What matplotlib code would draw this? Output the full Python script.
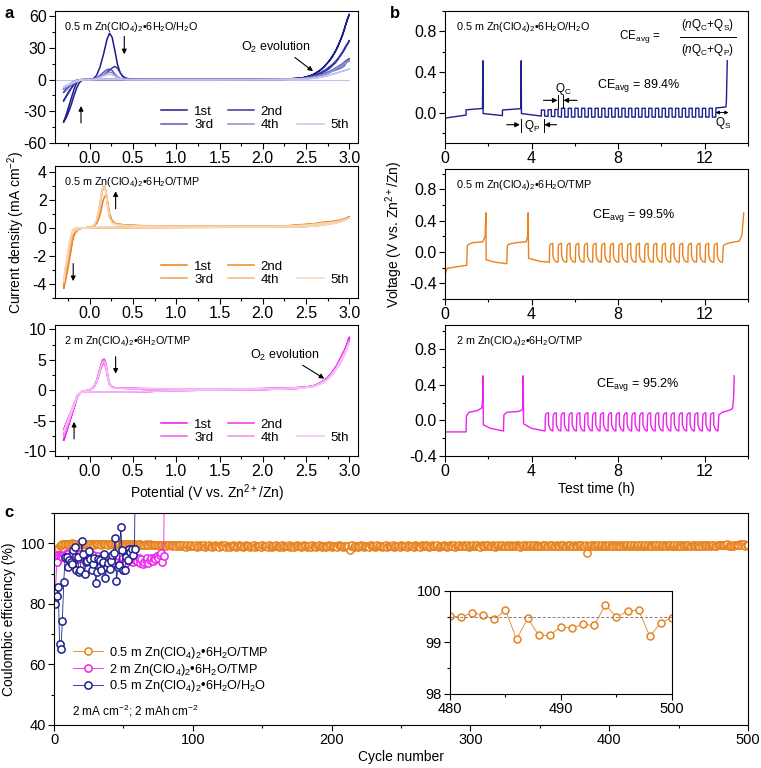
import numpy as np
import matplotlib.pyplot as plt
from matplotlib.ticker import MultipleLocator
from matplotlib.lines import Line2D

plt.rcParams['font.family'] = ['Liberation Sans', 'DejaVu Sans']
plt.rcParams['mathtext.fontset'] = 'custom'
plt.rcParams['mathtext.rm'] = 'Liberation Sans'
plt.rcParams['mathtext.it'] = 'Liberation Sans:italic'
plt.rcParams['mathtext.default'] = 'regular'
plt.rcParams['axes.unicode_minus'] = False
plt.rcParams['axes.linewidth'] = 0.8

# ---------------- data: panel a (CV) ----------------
cycle_names = ['1st', '2nd', '3rd', '4th', '5th']

# potential path for the H2O electrolyte (forward -0.3 -> 3.0, back to -0.3)
cv_h2o_v = [-0.30, -0.27, -0.24, -0.21, -0.18, -0.15, -0.12, -0.09, -0.05, 0.00, 0.04, 0.08,
            0.12, 0.16, 0.20, 0.23, 0.26, 0.29, 0.32, 0.35, 0.38, 0.42, 0.5, 0.8, 1.5, 2.0,
            2.3, 2.45, 2.55, 2.65, 2.72, 2.8, 2.86, 2.92, 2.96, 3.0,
            2.98, 2.94, 2.9, 2.84, 2.76, 2.68, 2.58, 2.45, 2.2, 1.5, 0.8, 0.3, 0.0, -0.08,
            -0.12, -0.15, -0.18, -0.21, -0.24, -0.27, -0.30]
cv_h2o_1 = [-40, -36, -30, -23, -15, -8, -3, -0.8, 0, 0, 0.5, 4, 12, 24, 38, 44, 40, 28, 15, 7, 3,
            1.2, 0.4, 0.1, 0.1, 0.2, 0.6, 1.5, 3.5, 8, 13, 21, 30, 42, 53, 62,
            58, 47, 38, 27, 17, 10, 4.5, 1.5, 0.3, 0.05, 0, 0, 0, 0, -0.5, -3, -9, -17, -25, -33, -40]
cv_h2o_2 = [-20, -16, -12, -8, -4.5, -2, -0.6, -0.1, 0, 0, 0.2, 1, 2.5, 4.5, 7, 9, 11, 12.5, 11,
            7, 3.5, 1.2, 0.3, 0.1, 0.1, 0.2, 0.5, 1.2, 2.8, 6, 9, 14, 19, 26, 32, 37,
            34, 28, 23, 16, 10, 6, 3, 1.2, 0.2, 0, 0, 0, 0, 0, -0.3, -1.5, -4, -7.5, -11, -15.5, -20]
cv_h2o_3 = [-12, -9, -6.5, -4, -2, -0.8, -0.2, 0, 0, 0, 0.2, 1.5, 4, 7, 9.5, 10, 8.5, 5.5, 2.8,
            1.2, 0.5, 0.2, 0.1, 0.05, 0.05, 0.1, 0.3, 0.8, 2, 4, 6, 9, 12, 15, 18, 20,
            18, 13, 11, 9, 7, 4.5, 2.5, 1, 0.2, 0, 0, 0, 0, 0, -0.2, -1, -2.5, -4.5, -7, -9.5, -12]
cv_h2o_4 = [-9, -7, -5, -3, -1.5, -0.5, -0.1, 0, 0, 0, 0.1, 1, 2.5, 4.5, 6.2, 7, 6.5, 4.5, 2.5,
            1, 0.4, 0.2, 0.1, 0.05, 0.05, 0.1, 0.3, 0.7, 1.5, 3.5, 5.5, 8, 11, 13, 16, 18,
            17, 15, 13, 10, 6, 3.5, 2, 0.8, 0.2, 0, 0, 0, 0, 0, -0.1, -0.7, -2, -3.5, -5, -7, -9]
cv_h2o_5 = [-7, -6, -5, -4, -3, -2, -1.2, -0.5, 0, 0, 0.1, 0.8, 2, 3.5, 4.5, 5, 4.5, 3, 1.5,
            0.6, 0.3, 0.1, 0.05, 0, 0, 0.05, 0.2, 0.5, 1, 2, 3.2, 5, 6.5, 8, 9, 10,
            9.5, 8.5, 7.5, 6, 4, 2.5, 1.2, 0.5, 0.1, 0, 0, 0, 0, 0, -0.3, -1, -2, -3, -4.2, -5.5, -7]

# potential path for the TMP electrolytes
cv_tmp_v = [-0.30, -0.28, -0.26, -0.24, -0.22, -0.20, -0.17, -0.14, -0.10, -0.05, 0.00, 0.05,
            0.08, 0.11, 0.13, 0.15, 0.17, 0.19, 0.21, 0.23, 0.26, 0.30, 0.40, 0.60, 1.0, 1.5,
            2.0, 2.3, 2.5, 2.6, 2.7, 2.8, 2.9, 2.95, 3.0,
            2.95, 2.85, 2.75, 2.6, 2.4, 2.0, 1.0, 0.5, 0.0, -0.1, -0.15, -0.18, -0.20, -0.22,
            -0.24, -0.26, -0.28, -0.30]
cv_05tmp_1 = [-4.3, -3.6, -2.9, -2.2, -1.5, -0.9, -0.4, -0.15, -0.05, 0, 0.02, 0.1, 0.3, 0.7,
              1.2, 1.8, 2.2, 2.3, 1.8, 1.0, 0.5, 0.3, 0.2, 0.15, 0.12, 0.1, 0.1, 0.15, 0.25,
              0.3, 0.4, 0.45, 0.55, 0.65, 0.8,
              0.6, 0.4, 0.3, 0.15, 0.08, 0.05, 0.03, 0.02, 0, -0.02, -0.05, -0.3, -1.0, -1.8,
              -2.5, -3.2, -3.8, -4.3]
cv_05tmp_2 = [-4.1, -3.3, -2.6, -1.9, -1.3, -0.8, -0.35, -0.12, -0.04, 0, 0.03, 0.15, 0.5, 1.2,
              2.0, 2.7, 2.95, 2.6, 1.6, 0.8, 0.4, 0.28, 0.2, 0.14, 0.12, 0.1, 0.1, 0.14, 0.22,
              0.28, 0.36, 0.42, 0.52, 0.62, 0.76,
              0.58, 0.38, 0.28, 0.14, 0.07, 0.04, 0.03, 0.02, 0, -0.02, -0.04, -0.2, -0.8, -1.6,
              -2.3, -3.0, -3.6, -4.1]
cv_05tmp_3 = [-3.9, -3.0, -2.3, -1.6, -1.0, -0.6, -0.25, -0.1, -0.03, 0, 0.03, 0.15, 0.5, 1.3,
              2.1, 2.8, 2.9, 2.5, 1.5, 0.75, 0.38, 0.26, 0.18, 0.13, 0.11, 0.1, 0.1, 0.13, 0.2,
              0.26, 0.34, 0.4, 0.5, 0.6, 0.74,
              0.56, 0.36, 0.26, 0.13, 0.06, 0.04, 0.03, 0.02, 0, -0.02, -0.03, -0.12, -0.5, -1.2,
              -2.0, -2.7, -3.3, -3.9]
cv_05tmp_4 = [-3.9, -2.9, -2.1, -1.4, -0.8, -0.45, -0.2, -0.08, -0.03, 0, 0.03, 0.16, 0.55, 1.35,
              2.2, 2.85, 3.0, 2.55, 1.5, 0.7, 0.36, 0.25, 0.17, 0.12, 0.1, 0.1, 0.1, 0.12, 0.19,
              0.25, 0.33, 0.38, 0.48, 0.58, 0.72,
              0.55, 0.35, 0.25, 0.12, 0.06, 0.04, 0.03, 0.02, 0, -0.02, -0.03, -0.08, -0.3, -0.9,
              -1.7, -2.4, -3.1, -3.9]
cv_05tmp_5 = [-3.8, -2.8, -2.0, -1.3, -0.7, -0.4, -0.18, -0.07, -0.02, 0, 0.03, 0.16, 0.55, 1.3,
              2.15, 2.8, 2.9, 2.5, 1.45, 0.7, 0.35, 0.24, 0.16, 0.12, 0.1, 0.1, 0.1, 0.12, 0.18,
              0.24, 0.32, 0.37, 0.46, 0.56, 0.7,
              0.54, 0.34, 0.24, 0.12, 0.06, 0.04, 0.03, 0.02, 0, -0.02, -0.03, -0.06, -0.2, -0.7,
              -1.4, -2.2, -2.9, -3.8]

cv_2tmp_1 = [-8.2, -7.4, -6.5, -5.6, -4.7, -3.8, -2.4, -1.0, -0.3, -0.1, 0.0, 0.5, 1.3, 2.6,
             3.6, 4.3, 4.4, 3.6, 2.0, 0.9, 0.5, 0.35, 0.3, 0.25, 0.2, 0.2, 0.25, 0.35, 0.5, 0.8,
             1.4, 2.8, 5.0, 6.6, 8.7,
             6.8, 4.0, 2.0, 0.7, 0.3, 0.1, -0.05, -0.3, -0.3, -0.3, -1.3, -2.8, -3.7, -4.6, -5.5,
             -6.4, -7.3, -8.2]
cv_2tmp_2 = [-6.5, -5.8, -5.1, -4.4, -3.7, -3.0, -1.9, -0.8, -0.25, -0.1, 0.0, 0.6, 1.6, 3.1,
             4.2, 5.0, 5.1, 4.2, 2.3, 1.0, 0.55, 0.38, 0.32, 0.26, 0.22, 0.2, 0.25, 0.35, 0.5,
             0.75, 1.35, 2.7, 4.9, 6.5, 8.5,
             6.7, 3.9, 1.9, 0.7, 0.3, 0.1, -0.05, -0.3, -0.3, -0.3, -1.1, -2.3, -3.0, -3.7, -4.4,
             -5.1, -5.8, -6.5]
cv_2tmp_3 = [-7.0, -6.2, -5.4, -4.6, -3.8, -3.0, -1.9, -0.8, -0.25, -0.1, 0.0, 0.6, 1.55, 3.0,
             4.1, 4.9, 5.0, 4.1, 2.2, 1.0, 0.5, 0.36, 0.3, 0.25, 0.2, 0.2, 0.24, 0.33, 0.48,
             0.72, 1.3, 2.6, 4.7, 6.3, 8.2,
             6.5, 3.8, 1.9, 0.7, 0.3, 0.1, -0.05, -0.3, -0.3, -0.3, -1.2, -2.5, -3.3, -4.1, -4.9,
             -5.6, -6.3, -7.0]
cv_2tmp_4 = [-7.5, -6.7, -5.9, -5.1, -4.2, -3.3, -2.1, -0.9, -0.25, -0.1, 0.0, 0.55, 1.5, 2.9,
             4.0, 4.7, 4.8, 4.0, 2.2, 0.95, 0.5, 0.35, 0.3, 0.24, 0.2, 0.2, 0.24, 0.32, 0.46,
             0.7, 1.25, 2.5, 4.6, 6.1, 8.0,
             6.3, 3.7, 1.8, 0.65, 0.3, 0.1, -0.05, -0.3, -0.3, -0.3, -1.25, -2.6, -3.5, -4.3, -5.2,
             -6.0, -6.8, -7.5]
cv_2tmp_5 = [-6.8, -6.1, -5.3, -4.5, -3.7, -2.9, -1.8, -0.8, -0.25, -0.1, 0.0, 0.55, 1.45, 2.8,
             3.9, 4.5, 4.6, 3.8, 2.1, 0.9, 0.5, 0.34, 0.28, 0.23, 0.2, 0.2, 0.23, 0.3, 0.44,
             0.68, 1.2, 2.4, 4.5, 6.0, 7.8,
             6.2, 3.6, 1.8, 0.6, 0.3, 0.1, -0.05, -0.3, -0.3, -0.3, -1.2, -2.4, -3.2, -4.0, -4.8,
             -5.5, -6.2, -6.8]

# ---------------- data: panel b (voltage profiles) ----------------
# navy: 0.5 m / H2O
h2o_pre_t = [0, 0.97, 0.975, 1.73, 1.75, 1.76, 2.65, 2.655, 3.5, 3.52, 3.53, 4.45]
h2o_pre_v = [-0.055, -0.025, 0.027, 0.04, 0.51, -0.01, -0.03, 0.025, 0.038, 0.51, -0.01, -0.035]
h2o_cyc_t = [4.45, 4.76, 5.07, 5.38, 5.69, 6.00, 6.31, 6.62, 6.93, 7.24, 7.55, 7.86, 8.17,
             8.48, 8.79, 9.10, 9.41, 9.72, 10.03, 10.34, 10.65, 10.96, 11.27, 11.58, 11.89, 12.20]
h2o_cyc_hi = [0.025, 0.028, 0.03] + [0.042] * 23
h2o_cyc_lo = [-0.035, -0.038, -0.04] + [-0.045] * 23
h2o_end_t = [12.51, 12.515, 12.98, 13.0, 13.04]
h2o_end_v = [-0.045, 0.045, 0.055, 0.12, 0.51]

# orange: 0.5 m / TMP
tmp05_pre_t = [0, 0.0, 0.02, 0.1, 0.5, 1.0, 1.03, 1.1, 1.3, 1.75, 1.85, 1.89, 1.9, 2.3, 2.85,
               2.88, 2.95, 3.3, 3.75, 3.82, 3.84, 3.86, 4.4, 4.82]
tmp05_pre_v = [0.95, -0.35, -0.27, -0.21, -0.19, -0.17, 0.08, 0.1, 0.12, 0.13, 0.2, 0.5, -0.1,
               -0.13, -0.15, 0.08, 0.1, 0.12, 0.13, 0.2, 0.5, -0.08, -0.12, -0.13]
tmp05_cyc_t = [4.82, 5.22, 5.62, 6.02, 6.42, 6.82, 7.22, 7.62, 8.02, 8.42, 8.82, 9.22, 9.62,
               10.02, 10.42, 10.82, 11.22, 11.62, 12.02, 12.42]
tmp05_cyc_hi = 0.11
tmp05_cyc_lo = -0.13
tmp05_end_t = [12.82, 12.86, 12.95, 13.2, 13.6, 13.72, 13.8]
tmp05_end_v = [-0.13, 0.08, 0.1, 0.12, 0.14, 0.22, 0.5]

# magenta: 2 m / TMP
tmp2_pre_t = [0, 0.0, 0.97, 0.99, 1.1, 1.5, 1.7, 1.74, 1.75, 1.77, 2.1, 2.7, 2.72, 2.85, 3.4,
              3.58, 3.6, 3.61, 3.63, 4.0, 4.62]
tmp2_pre_v = [0.95, -0.13, -0.13, 0.05, 0.09, 0.11, 0.14, 0.25, 0.5, -0.05, -0.09, -0.12, 0.06,
              0.09, 0.1, 0.12, 0.25, 0.5, -0.04, -0.09, -0.12]
tmp2_cyc_t = [4.62, 4.98, 5.35, 5.71, 6.07, 6.44, 6.80, 7.16, 7.53, 7.89, 8.25, 8.62, 8.98,
              9.34, 9.71, 10.07, 10.43, 10.80, 11.16, 11.52, 11.89, 12.25]
tmp2_cyc_hi = 0.085
tmp2_cyc_lo = -0.12
tmp2_end_t = [12.61, 12.65, 12.8, 13.1, 13.28, 13.33, 13.36]
tmp2_end_v = [-0.12, 0.06, 0.09, 0.11, 0.13, 0.25, 0.5]

# ---------------- data: panel c (Coulombic efficiency) ----------------
ce_h2o = [80.0, 82.5, 85.6, 66.9, 65.0, 74.4, 87.2, 95.6, 95.4, 92.2, 94.6, 93.8, 93.3, 97.7,
          98.8, 91.1, 95.4, 90.5, 91.1, 100.7, 96.5, 90.0, 93.8, 94.3, 97.4, 94.9, 91.3, 93.3,
          95.0, 86.9, 90.5, 94.9, 94.6, 91.1, 93.8, 96.5, 88.6, 92.2, 93.5, 91.6, 94.3, 96.0,
          96.8, 101.8, 87.7, 92.2, 92.8, 105.5, 97.9, 91.3, 91.3, 95.5, 94.6, 98.2, 97.0, 98.2,
          96.0, 98.0, 150.0]
ce_2tmp = [84.3, 93.7, 96.0, 96.2, 95.8, 95.5, 96.3, 95.0, 96.8, 96.5, 95.2, 96.0, 95.7, 96.6,
           95.3, 96.2, 94.8, 95.9, 96.4, 95.1, 95.6, 96.1, 94.6, 95.4, 95.8, 94.2, 95.5, 96.0,
           94.9, 95.2, 94.5, 95.7, 94.1, 95.0, 95.9, 94.4, 95.3, 93.8, 94.9, 95.6, 94.0, 95.1,
           94.6, 93.6, 95.2, 94.3, 95.8, 93.9, 94.7, 95.0, 94.2, 93.5, 95.4, 94.1, 94.8, 95.6,
           93.7, 94.4, 95.1, 94.0, 95.3, 93.4, 94.9, 93.2, 93.8, 94.5, 95.2, 93.6, 94.6, 95.0,
           94.1, 95.3, 94.7, 95.9, 95.1, 96.2, 96.8, 93.9, 95.7, 150.0]
ce_05tmp = [
    96.8, 97.9, 98.6, 99.2, 99.5, 99.7, 99.8, 99.9, 99.8, 99.9, 99.7, 99.8, 100.0, 99.7, 99.9, 99.8, 99.6, 99.9, 99.8, 99.7, 99.9, 99.8, 99.6, 99.8, 99.9,
    99.7, 99.8, 99.9, 99.6, 99.8, 99.7, 99.9, 99.8, 99.6, 99.7, 99.9, 99.8, 99.7, 99.6, 99.8, 99.9, 99.7, 99.8, 99.6, 99.7, 99.8, 99.9, 99.6, 99.7, 99.8,
    99.7, 99.6, 99.8, 99.7, 99.5, 99.8, 99.6, 99.7, 99.5, 99.6, 99.8, 99.7, 99.5, 99.6, 99.4, 99.7, 99.6, 99.5, 99.7, 99.4, 99.6, 99.5, 99.3, 99.6, 99.5,
    99.4, 99.6, 99.3, 99.5, 99.4, 99.2, 99.5, 99.3, 99.4, 99.1, 99.3, 99.5, 99.2, 99.4, 99.0, 99.3, 99.1, 99.4, 99.2, 98.9, 99.3, 99.0, 99.2, 99.4, 99.1,
    99.0, 99.3, 98.8, 99.2, 99.4, 99.0, 99.1, 99.3, 98.9, 99.2, 99.0, 99.4, 99.1, 98.8, 99.2, 99.3, 99.0, 99.1, 98.9, 99.3, 99.2, 99.0, 99.4, 98.9, 99.1,
    99.2, 98.8, 99.1, 99.3, 99.0, 98.9, 99.2, 99.4, 99.1, 99.0, 98.7, 99.2, 99.3, 99.0, 99.1, 98.9, 99.2, 99.0, 99.3, 98.8, 99.1, 99.2, 99.0, 98.9, 99.3,
    99.1, 99.0, 99.2, 98.8, 99.3, 99.1, 98.9, 99.0, 99.2, 99.4, 99.0, 98.9, 99.1, 99.3, 98.8, 99.2, 99.0, 99.1, 99.3, 98.9, 99.2, 99.0, 98.8, 99.1, 99.3,
    99.0, 99.2, 98.9, 99.1, 99.4, 99.0, 98.8, 99.2, 99.1, 98.9, 99.3, 99.0, 99.2, 98.8, 99.1, 99.3, 99.0, 98.9, 99.2, 99.1, 98.8, 99.0, 99.3, 99.1, 98.9,
    99.2, 99.0, 99.1, 98.8, 99.3, 99.0, 99.2, 98.9, 99.1, 99.0, 98.8, 99.2, 97.7, 99.1, 99.3, 98.9, 99.0, 99.2, 98.8, 99.1, 99.3, 99.0, 98.9, 99.2, 99.0,
    99.1, 98.9, 99.3, 99.0, 99.2, 98.8, 99.1, 99.3, 99.0, 99.2, 98.9, 99.1, 99.0, 99.4, 98.9, 99.2, 99.0, 99.1, 99.3, 98.8, 99.2, 99.0, 99.1, 98.9, 99.3,
    99.0, 99.2, 99.1, 98.9, 99.3, 99.0, 99.2, 99.1, 98.8, 99.3, 99.1, 99.0, 99.2, 98.9, 99.4, 99.1, 99.0, 99.3, 99.2, 98.9, 99.1, 99.3, 99.0, 99.2, 99.1,
    99.3, 98.9, 99.1, 99.2, 99.0, 99.4, 99.1, 98.9, 99.2, 99.3, 99.0, 99.1, 99.3, 98.9, 99.2, 99.0, 99.3, 99.1, 99.2, 99.4, 99.0, 99.1, 99.3, 98.9, 99.2,
    99.1, 99.3, 99.0, 99.2, 99.4, 99.1, 98.9, 99.3, 99.2, 99.0, 99.3, 99.1, 99.4, 99.0, 99.2, 99.3, 99.1, 98.9, 99.2, 99.4, 99.1, 99.0, 99.3, 99.2, 99.1,
    99.4, 99.0, 99.2, 99.3, 99.1, 99.2, 99.0, 99.4, 99.3, 99.1, 98.9, 99.2, 99.3, 99.0, 99.4, 99.2, 99.1, 99.3, 99.0, 99.2, 99.4, 99.1, 99.3, 99.2, 99.0,
    99.2, 99.3, 99.1, 99.4, 99.0, 99.2, 99.3, 99.1, 99.4, 99.2, 99.0, 99.3, 99.1, 99.2, 99.4, 99.0, 99.3, 99.2, 99.1, 99.3, 99.0, 99.4, 99.2, 99.1, 99.3,
    99.2, 99.0, 99.3, 99.1, 99.4, 99.2, 99.0, 99.3, 96.9, 99.1, 99.2, 99.3, 99.0, 99.4, 99.1, 99.2, 99.3, 99.0, 99.2, 99.4, 99.1, 99.3, 99.2, 99.0, 99.3,
    99.1, 99.4, 99.2, 99.3, 99.0, 99.2, 99.4, 99.1, 99.3, 99.2, 99.0, 99.3, 99.5, 99.1, 99.2, 99.4, 99.0, 99.3, 99.2, 99.1, 99.4, 99.2, 99.3, 99.0, 99.2,
    99.4, 99.1, 99.3, 99.2, 99.5, 99.0, 99.3, 99.2, 99.4, 99.1, 99.3, 99.2, 99.0, 99.4, 99.3, 99.1, 99.2, 99.5, 99.3, 99.1, 99.2, 99.4, 99.0, 99.3, 99.2,
    99.3, 99.1, 99.4, 99.2, 99.0, 99.3, 99.5, 99.2, 99.1, 99.4, 99.3, 99.0, 99.2, 99.4, 99.1, 99.3, 99.2, 99.5, 99.0, 99.3, 99.4, 99.1, 99.2, 99.3, 99.4,
    99.2, 99.1, 99.3, 99.4,
    99.52, 99.49, 99.58, 99.53, 99.45, 99.63, 99.06, 99.47, 99.14, 99.14, 99.31, 99.28, 99.35,
    99.33, 99.73, 99.49, 99.61, 99.63, 99.12, 99.38, 99.48]
ce_avg_line = 99.5

# ---------------- colours ----------------
navy = ['#1c1c8c', '#3434a6', '#5a5abd', '#8d8dd3', '#c3c3e9']
orange = ['#e8801a', '#ec8c2c', '#f0a050', '#f4bb82', '#f8d6b4']
magenta = ['#e619e6', '#ea36ea', '#ee5cee', '#f38af3', '#f8bcf8']
c_navy, c_orange, c_mag = '#1f1f8f', '#e8821e', '#ee22ee'

TICK = 11.5
fig = plt.figure(figsize=(7.61, 7.68), dpi=100)

def style(ax, xmaj, xmin, ymaj, ymin, ls=TICK):
    ax.xaxis.set_major_locator(MultipleLocator(xmaj))
    ax.xaxis.set_minor_locator(MultipleLocator(xmin))
    ax.yaxis.set_major_locator(MultipleLocator(ymaj))
    ax.yaxis.set_minor_locator(MultipleLocator(ymin))
    ax.tick_params(which='both', direction='out', top=False, right=False, labelsize=ls, width=0.8)
    ax.tick_params(which='major', length=4, pad=2)
    ax.tick_params(which='minor', length=2.5)

def arrow(ax, xy, xytext):
    ax.annotate('', xy=xy, xytext=xytext,
                arrowprops=dict(arrowstyle='-|>', color='k', lw=0.8, mutation_scale=7,
                                shrinkA=0, shrinkB=0))

def cv_panel(rect, vpath, curves, cols, ylim, ymaj, ymin, title):
    ax = fig.add_axes(rect)
    hs = []
    for cur, col in zip(curves, cols):
        h, = ax.plot(vpath, cur, color=col, lw=1.1)
        hs.append(h)
    blank = Line2D([], [], color='none')
    ax.legend([hs[0], hs[2], hs[1], hs[3], blank, hs[4]],
              ['1st', '3rd', '2nd', '4th', '', '5th'], ncol=3, loc='lower right',
              bbox_to_anchor=(1.0, 0.02), frameon=False, fontsize=9.5, handlelength=2.0,
              columnspacing=1.1, labelspacing=0.1, handletextpad=0.5, borderpad=0.2)
    ax.set_xlim(-0.4, 3.1)
    ax.set_ylim(*ylim)
    style(ax, 0.5, 0.25, ymaj, ymin)
    ax.text(0.03, 0.93, title, transform=ax.transAxes, fontsize=7.8, va='top')
    return ax

ttl_h2o = '0.5 m Zn(ClO$_4$)$_2$•6H$_2$O/H$_2$O'
ttl_05 = '0.5 m Zn(ClO$_4$)$_2$•6H$_2$O/TMP'
ttl_2 = '2 m Zn(ClO$_4$)$_2$•6H$_2$O/TMP'

a1 = cv_panel([0.0723, 0.8138, 0.3982, 0.1719], cv_h2o_v,
              [cv_h2o_1, cv_h2o_2, cv_h2o_3, cv_h2o_4, cv_h2o_5], navy,
              (-60, 65), 30, 15, ttl_h2o)
a1.plot([-0.4, 3.0], [0, 0], color=navy[4], lw=0.8, zorder=0)
arrow(a1, (0.40, 24), (0.40, 41))
arrow(a1, (-0.10, -25), (-0.10, -41))
a1.text(2.15, 30, 'O$_2$ evolution', fontsize=9, ha='center', va='center')
arrow(a1, (2.58, 8), (2.37, 21))

a2 = cv_panel([0.0723, 0.6120, 0.3982, 0.1719], cv_tmp_v,
              [cv_05tmp_1, cv_05tmp_2, cv_05tmp_3, cv_05tmp_4, cv_05tmp_5], orange,
              (-5, 4.4), 2, 1, ttl_05)
arrow(a2, (0.30, 2.6), (0.30, 1.35))
arrow(a2, (-0.19, -3.8), (-0.19, -2.55))
a2.set_ylabel('Current density (mA cm$^{-2}$)', fontsize=10, labelpad=4)

a3 = cv_panel([0.0723, 0.4063, 0.3982, 0.1705], cv_tmp_v,
              [cv_2tmp_1, cv_2tmp_2, cv_2tmp_3, cv_2tmp_4, cv_2tmp_5], magenta,
              (-10.8, 10.7), 5, 2.5, ttl_2)
arrow(a3, (0.30, 2.7), (0.30, 5.5))
arrow(a3, (-0.18, -5.2), (-0.18, -8.0))
a3.text(2.26, 5.7, 'O$_2$ evolution', fontsize=9, ha='center', va='center')
arrow(a3, (2.71, 1.9), (2.46, 4.1))
a3.set_xlabel('Potential (V vs. Zn$^{2+}$/Zn)', fontsize=10, labelpad=2)

# ---------------- panel b ----------------
def profile(pre_t, pre_v, cyc_t, hi, lo, end_t, end_v, square):
    t, v = list(pre_t), list(pre_v)
    for i, t0 in enumerate(cyc_t):
        h = hi[i] if isinstance(hi, list) else hi
        l = lo[i] if isinstance(lo, list) else lo
        if square:
            t += [t0, t0 + 0.001, t0 + 0.15, t0 + 0.151]
            v += [l, h, h, l]
        else:
            t += [t0, t0 + 0.015, t0 + 0.04, t0 + 0.09, t0 + 0.16, t0 + 0.165, t0 + 0.22, t0 + 0.3]
            v += [l, h - 0.04, h - 0.015, h - 0.005, h, -0.05, l + 0.03, l + 0.005]
    t += list(end_t)
    v += list(end_v)
    return t, v

b_rects = [[0.5848, 0.8138, 0.3982, 0.1719], [0.5848, 0.6107, 0.3982, 0.1693],
           [0.5848, 0.4063, 0.3982, 0.1705]]
b_ylims = [(-0.3, 1.0), (-0.6, 1.06), (-0.4, 1.07)]
b_data = [profile(h2o_pre_t, h2o_pre_v, h2o_cyc_t, h2o_cyc_hi, h2o_cyc_lo, h2o_end_t, h2o_end_v, True),
          profile(tmp05_pre_t, tmp05_pre_v, tmp05_cyc_t, tmp05_cyc_hi, tmp05_cyc_lo, tmp05_end_t, tmp05_end_v, False),
          profile(tmp2_pre_t, tmp2_pre_v, tmp2_cyc_t, tmp2_cyc_hi, tmp2_cyc_lo, tmp2_end_t, tmp2_end_v, False)]
b_cols = [c_navy, c_orange, c_mag]
b_ttl = [ttl_h2o, ttl_05, ttl_2]
b_ce = ['CE$_{avg}$ = 89.4%', 'CE$_{avg}$ = 99.5%', 'CE$_{avg}$ = 95.2%']
b_ce_pos = [(8.95, 0.27), (8.7, 0.47), (8.9, 0.40)]
b_axes = []
for rect, yl, (t, v), col, ttl, ce, pos in zip(b_rects, b_ylims, b_data, b_cols, b_ttl, b_ce, b_ce_pos):
    ax = fig.add_axes(rect)
    ax.plot(t, v, color=col, lw=1.0)
    ax.set_xlim(0, 14)
    ax.set_ylim(*yl)
    style(ax, 4, 2, 0.4, 0.2)
    ax.text(0.035, 0.93, ttl, transform=ax.transAxes, fontsize=7.8, va='top')
    ax.text(pos[0], pos[1], ce, fontsize=9, ha='center', va='center')
    b_axes.append(ax)

b1, b2, b3 = b_axes
b1.text(9.0, 0.745, 'CE$_{avg}$ =', fontsize=8.5, ha='center', va='center')
b1.text(12.15, 0.86, '($\\mathit{n}$Q$_C$+Q$_S$)', fontsize=8.5, ha='center', va='center')
b1.text(12.15, 0.62, '($\\mathit{n}$Q$_C$+Q$_P$)', fontsize=8.5, ha='center', va='center')
b1.plot([10.85, 13.45], [0.745, 0.745], color='k', lw=0.7)
# Q_C marker
b1.plot([5.22, 5.22], [0.04, 0.17], color='k', lw=0.7)
b1.plot([5.45, 5.45], [0.04, 0.17], color='k', lw=0.7)
arrow(b1, (5.2, 0.12), (4.55, 0.12))
arrow(b1, (5.47, 0.12), (6.1, 0.12))
b1.text(5.45, 0.235, 'Q$_C$', fontsize=8.5, ha='center', va='center')
# Q_P marker
b1.plot([3.5, 3.5], [-0.06, -0.19], color='k', lw=0.7)
b1.plot([4.55, 4.55], [-0.06, -0.19], color='k', lw=0.7)
arrow(b1, (3.46, -0.12), (2.85, -0.12))
arrow(b1, (4.59, -0.12), (5.15, -0.12))
b1.text(4.03, -0.135, 'Q$_P$', fontsize=8.5, ha='center', va='center')
# Q_S marker
b1.annotate('', xy=(13.1, 0.0), xytext=(12.5, 0.0),
            arrowprops=dict(arrowstyle='<|-|>', color='k', lw=0.7, mutation_scale=5,
                            shrinkA=0, shrinkB=0))
b1.text(12.87, -0.1, 'Q$_S$', fontsize=8.5, ha='center', va='center')

b2.set_ylabel('Voltage (V vs. Zn$^{2+}$/Zn)', fontsize=10, labelpad=3)
b3.set_xlabel('Test time (h)', fontsize=10, labelpad=2)

# ---------------- panel c ----------------
axc = fig.add_axes([0.0710, 0.0560, 0.9120, 0.2760])
mk = dict(marker='o', mfc='white', ms=5.2, mew=1.1, lw=0.6)
cyc05 = np.arange(1, len(ce_05tmp) + 1)
cyc2 = np.arange(1, len(ce_2tmp) + 1)
cych = np.arange(1, len(ce_h2o) + 1)
axc.plot(cyc05, ce_05tmp, color=c_orange, mec=c_orange, label=ttl_05, **mk)
axc.plot(cyc2, ce_2tmp, color=c_mag, mec=c_mag, label=ttl_2, **mk)
axc.plot(cych, ce_h2o, color=c_navy, mec=c_navy, label=ttl_h2o, **mk)
axc.set_xlim(0, 500)
axc.set_ylim(40, 110)
style(axc, 100, 50, 20, 10, ls=10.5)
axc.set_xlabel('Cycle number', fontsize=10, labelpad=2)
axc.set_ylabel('Coulombic efficiency (%)', fontsize=10, labelpad=4)
axc.legend(loc='upper left', bbox_to_anchor=(0.015, 0.42), frameon=False, fontsize=9.2,
           handlelength=2.3, labelspacing=0.05, handletextpad=0.5, borderpad=0.2)
axc.text(0.026, 0.066, '2 mA cm$^{-2}$; 2 mAh cm$^{-2}$', transform=axc.transAxes,
         fontsize=8.5, va='center')

axi = fig.add_axes([0.5913, 0.0964, 0.2917, 0.1341])
axi.plot(cyc05, ce_05tmp, color=c_orange, mec=c_orange, marker='o', mfc='white', ms=5,
         mew=1.1, lw=0.6)
axi.axhline(ce_avg_line, color='#808080', lw=0.7, ls=(0, (3, 2)))
axi.set_xlim(480, 500)
axi.set_ylim(98, 100)
style(axi, 10, 5, 1, 0.5, ls=10.5)

fig.text(0.006, 0.992, 'a', fontsize=12, fontweight='bold', va='top')
fig.text(0.512, 0.992, 'b', fontsize=12, fontweight='bold', va='top')
fig.text(0.006, 0.343, 'c', fontsize=12, fontweight='bold', va='top')

fig.savefig('out.png', dpi=100)
